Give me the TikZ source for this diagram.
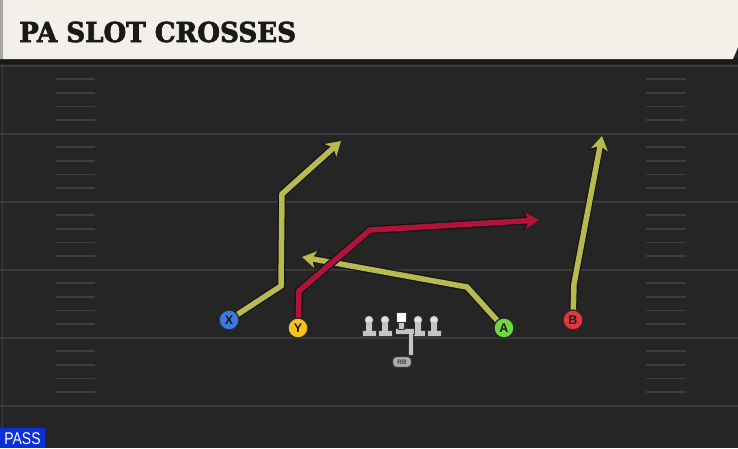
\documentclass[tikz,border=0pt]{standalone}
\usepackage{fontspec}
\setmainfont{DejaVu Sans}
\newfontfamily\titlefont[BoldFeatures={FakeBold=2.5}]{DejaVu Serif}
\newfontfamily\labelfont{Liberation Sans}
\usetikzlibrary{arrows.meta}
\definecolor{fieldcol}{HTML}{252525}
\definecolor{yardcol}{HTML}{3A3A3A}
\definecolor{hashcol}{HTML}{3E3E3E}
\definecolor{headcol}{HTML}{F3F0E9}
\definecolor{routeyel}{HTML}{B8B94E}
\definecolor{routered}{HTML}{B2133B}
\definecolor{pblue}{HTML}{3B7BE0}
\definecolor{pyellow}{HTML}{F4C21B}
\definecolor{pgreen}{HTML}{72D640}
\definecolor{pred}{HTML}{E3343F}
\definecolor{passblue}{HTML}{0B2FDA}
\definecolor{lmgray}{HTML}{C4C4C4}
\tikzset{
  yardline/.style={draw=yardcol, line width=2pt},
  hashline/.style={draw=hashcol, line width=1.6pt},
  route/.style={draw=#1, line width=5.5pt, line join=miter,
    -{Stealth[length=14pt,width=17pt,inset=4pt]},
    preaction={draw=black!92, line width=8pt,
      -{Stealth[length=16pt,width=20pt,inset=4.5pt]}}},
  player/.style={circle, draw=black!85, line width=1.2pt, minimum size=20pt,
    inner sep=0pt, font=\labelfont\bfseries\fontsize{12.5}{12.5}\selectfont, text=black!90},
  lineman/.style={fill=lmgray, draw=black!80, line width=0.9pt},
}
\begin{document}
\begin{tikzpicture}[x=1pt,y=-1pt]
\useasboundingbox (0,0) rectangle (738,448);
\fill[fieldcol] (0,0) rectangle (738,448);
% field lines
\foreach \yy in {65.5,133.5,201.5,269.5,337.5,405.5}
  \draw[yardline] (0,\yy) -- (738,\yy);
\foreach \yy in {65.5,133.5,201.5,269.5,337.5}
  \foreach \k in {1,2,3,4} {
    \draw[hashline] (56,\yy+13.6*\k) -- (95,\yy+13.6*\k);
    \draw[hashline] (646,\yy+13.6*\k) -- (686,\yy+13.6*\k);
  }
\draw[yardcol, line width=1pt] (2,60) -- (2,448);
% header
\fill[black!90] (0,58) rectangle (738,64);
\fill[headcol] (0,0) -- (738,0) -- (738,47) -- (733,59) -- (0,59) -- cycle;
\fill[black!35] (0,0) rectangle (3,59);
\node[anchor=west, inner sep=0pt, xscale=0.95, text=black!90,
  font=\titlefont\bfseries\fontsize{27.5}{27.5}\selectfont] (title) at (19,32) {PA SLOT CROSSES};
% player positions
\coordinate (pX) at (229,320);
\coordinate (pY) at (298,328);
\coordinate (pA) at (504,328);
\coordinate (pB) at (573,320);
% route points
\coordinate (x1) at (281,286);
\coordinate (x2) at (282,194);
\coordinate (x3) at (341,141);
\coordinate (y1) at (299,291);
\coordinate (y2) at (370,230);
\coordinate (y3) at (539,220);
\coordinate (a1) at (467,287);
\coordinate (a2) at (302,257);
\coordinate (b1) at (574,284);
\coordinate (b2) at (602,136);
% routes
\draw[route=routeyel] (pX) -- (x1) -- (x2) -- (x3);
\draw[route=routeyel] (pA) -- (a1) -- (a2);
\draw[route=routered] (pY) -- (y1) -- (y2) -- (y3);
\draw[route=routeyel] (pB) -- (b1) -- (b2);
% players
\node[player, fill=pblue] (X) at (pX) {X};
\node[player, fill=pyellow] (Y) at (pY) {Y};
\node[player, fill=pgreen] (A) at (pA) {A};
\node[player, fill=pred] (B) at (pB) {B};
% offensive line
\foreach \xx in {369,385,418,434} {
  \filldraw[lineman] (\xx-7,330.5) -- (\xx-3,330.5) -- (\xx-3,322) -- (\xx+3,322) -- (\xx+3,330.5)
    -- (\xx+7,330.5) -- (\xx+7,336.5) -- (\xx-7,336.5) -- cycle;
  \filldraw[lineman, fill=lmgray!55!white] (\xx,320) circle (4.6pt);
  \fill[lmgray] (\xx-2.55,321.5) rectangle (\xx+2.55,331);
}
% center and RB
\node[draw=black!80, line width=1.2pt, fill=gray!65, rounded corners=4pt, minimum width=19pt,
  minimum height=11pt, inner sep=0pt, font=\labelfont\bfseries\fontsize{6.5}{6.5}\selectfont, text=black!75] (RB) at (402,362) {RB};
\coordinate (snap) at (411,332);
\filldraw[lineman] (395.5,328.5) -- (414.5,328.5) -- (414.5,334.5) -- (395.5,334.5) -- cycle;
\draw[draw=black!80, line width=6.5pt] (snap) -- (RB.north east -| snap);
\draw[draw=lmgray, line width=4.7pt] (snap) -- ([yshift=1pt]RB.north east -| snap);
\fill[lmgray] (395.95,328.95) rectangle (414.05,334.05);
\filldraw[draw=black!80, line width=0.9pt, fill=lmgray] (398.5,321) rectangle (404.5,329.2);
\node[draw=black!80, line width=0.9pt, fill=white, minimum size=10.5pt, inner sep=0pt] (C) at (401.5,317.5) {};
% PASS label
\fill[passblue] (0,428) rectangle (45,448);
\node[text=white, inner sep=0pt, font=\labelfont\fontsize{17}{17}\selectfont, xscale=0.82] (pass) at (22.5,438.5) {PASS};
\end{tikzpicture}
\end{document}
